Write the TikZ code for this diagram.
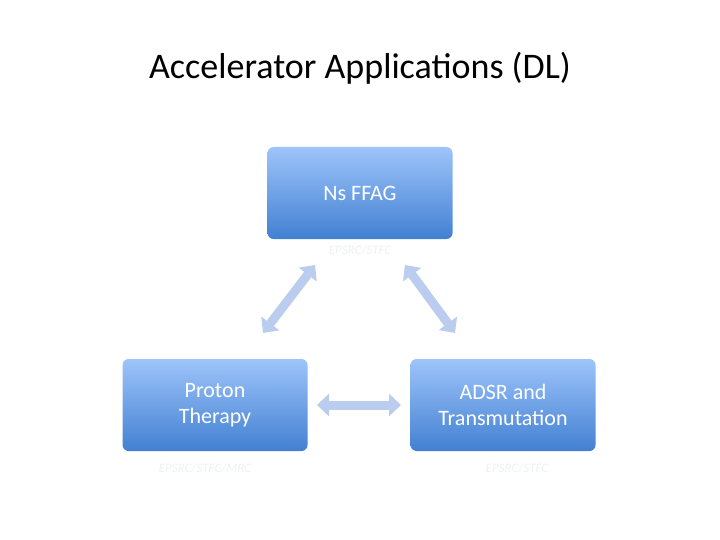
\documentclass[tikz,border=0pt]{standalone}
\usepackage{fontspec}
\setmainfont{Carlito}
\usetikzlibrary{arrows.meta}
\definecolor{btop}{RGB}{158,196,250}
\definecolor{bbot}{RGB}{66,128,210}
\definecolor{arr}{RGB}{186,205,238}
\definecolor{lbl}{RGB}{238,240,244}
\begin{document}
\begin{tikzpicture}[x=1pt,y=-1pt,
  box/.style={rounded corners=6pt,top color=btop,bottom color=bbot,draw=none,
    minimum width=185pt,minimum height=92pt,inner sep=0pt,text=white,
    font=\fontsize{22}{26}\selectfont,align=center},
  lab/.style={text=lbl,font=\itshape\fontsize{13}{15}\selectfont},
  link/.style={draw=arr,line width=9pt,{Triangle[width=22pt,length=12pt]}-{Triangle[width=22pt,length=12pt]}}]
\useasboundingbox (0,0) rectangle (720,540);
\node (title) at (360,68) {\fontsize{36}{42}\selectfont Accelerator Applications (DL)};
\node[box] (ns) at (360,193) {Ns FFAG};
\node[box] (pt) at (215,405) {Proton\\Therapy};
\node[box] (ad) at (503,405) {ADSR and\\Transmutation};
\node[lab] (l1) at (360,250) {EPSRC/STFC};
\node[lab] (l2) at (205,468) {EPSRC/STFC/MRC};
\node[lab] (l3) at (517,468) {EPSRC/STFC};
\coordinate (a1) at (263,333); \coordinate (a2) at (315,265);
\coordinate (b1) at (405,265); \coordinate (b2) at (455,333);
\coordinate (c1) at (317,405); \coordinate (c2) at (401,405);
\draw[link] (a1) -- (a2);
\draw[link] (b1) -- (b2);
\draw[link] (c1) -- (c2);
\end{tikzpicture}
\end{document}
